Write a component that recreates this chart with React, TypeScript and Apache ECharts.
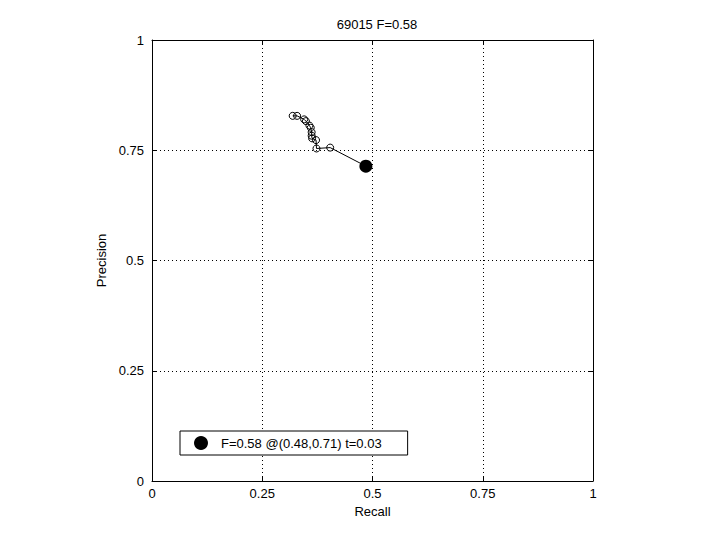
import React, { useEffect, useRef } from "react";
import * as echarts from "echarts";

const titleText = "69015 F=0.58";
const recall = [0.319, 0.329, 0.345, 0.349, 0.357, 0.36, 0.362, 0.362, 0.363, 0.372, 0.373, 0.404];
const precision = [0.828, 0.828, 0.82, 0.816, 0.806, 0.801, 0.791, 0.783, 0.777, 0.773, 0.754, 0.756];
const bestPoint = [0.485, 0.714];
const bestLabel = "F=0.58 @(0.48,0.71) t=0.03";
const tickValues = [0, 0.25, 0.5, 0.75, 1];

const FONT = "'Liberation Sans', Arial, Helvetica, sans-serif";

export default function App() {
  const ref = useRef<HTMLDivElement>(null);
  useEffect(() => {
    if (!ref.current) return;
    const chart = echarts.init(ref.current, undefined, { renderer: "svg" });
    const curve = recall.map((r, i) => [r, precision[i]]);
    const lineData: any[] = curve.map((p) => ({ value: p }));
    lineData.push({ value: bestPoint, symbol: "none" });
    const fmt = (v: number) => (tickValues.includes(v) ? String(v) : "");
    const axisCommon = {
      min: 0,
      max: 1,
      interval: 0.25,
      axisLine: { show: true, onZero: false, lineStyle: { color: "#000", width: 1 } },
      axisTick: { show: true, inside: true, length: 5, lineStyle: { color: "#000" } },
    };
    chart.setOption({
      animation: false,
      backgroundColor: "#fff",
      textStyle: { fontFamily: FONT },
      title: {
        text: titleText,
        left: 372,
        textAlign: "center",
        top: 13,
        textStyle: { fontSize: 13, fontWeight: "normal", color: "#000", fontFamily: FONT },
      },
      grid: { left: 152, right: 127, top: 40, bottom: 59, show: false },
      legend: {
        data: [{ name: bestLabel, icon: "circle" }],
        left: 180,
        top: 431,
        orient: "vertical",
        itemWidth: 30,
        itemHeight: 14,
        itemGap: 0,
        padding: [5, 26, 5, 14],
        borderColor: "#000",
        borderWidth: 1,
        borderRadius: 0,
        backgroundColor: "#fff",
        itemStyle: { opacity: 1 },
        textStyle: { fontSize: 13, color: "#000", fontFamily: FONT },
      },
      xAxis: [
        {
          ...axisCommon,
          type: "value",
          position: "bottom",
          name: "Recall",
          nameLocation: "middle",
          nameGap: 22,
          nameTextStyle: { fontSize: 13, color: "#000", fontFamily: FONT },
          axisLabel: { color: "#000", fontSize: 13, margin: 6, formatter: fmt, fontFamily: FONT },
          splitLine: { show: true, lineStyle: { color: "#000", type: [1, 3], width: 1 } },
        },
        {
          ...axisCommon,
          type: "value",
          position: "top",
          axisLabel: { show: false },
          splitLine: { show: false },
        },
      ],
      yAxis: [
        {
          ...axisCommon,
          type: "value",
          position: "left",
          name: "Precision",
          nameLocation: "middle",
          nameGap: 35,
          nameTextStyle: { fontSize: 13, color: "#000", fontFamily: FONT },
          axisLabel: { color: "#000", fontSize: 13, margin: 8, formatter: fmt, fontFamily: FONT },
          splitLine: { show: true, lineStyle: { color: "#000", type: [1, 3], width: 1 } },
        },
        {
          ...axisCommon,
          type: "value",
          position: "right",
          axisLabel: { show: false },
          splitLine: { show: false },
        },
      ],
      series: [
        {
          type: "line",
          name: "curve",
          data: lineData,
          symbol: "circle",
          symbolSize: 7,
          showAllSymbol: true,
          lineStyle: { color: "#000", width: 1 },
          itemStyle: { color: "rgba(0,0,0,0)", borderColor: "#000", borderWidth: 1 },
          z: 3,
        },
        {
          type: "scatter",
          name: bestLabel,
          data: [bestPoint],
          symbol: "circle",
          symbolSize: 13,
          itemStyle: { color: "#000", opacity: 1 },
          z: 4,
        },
      ],
    });
    return () => chart.dispose();
  }, []);
  return <div ref={ref} style={{ width: 720, height: 540, position: "absolute", left: 0, top: 0 }} />;
}
